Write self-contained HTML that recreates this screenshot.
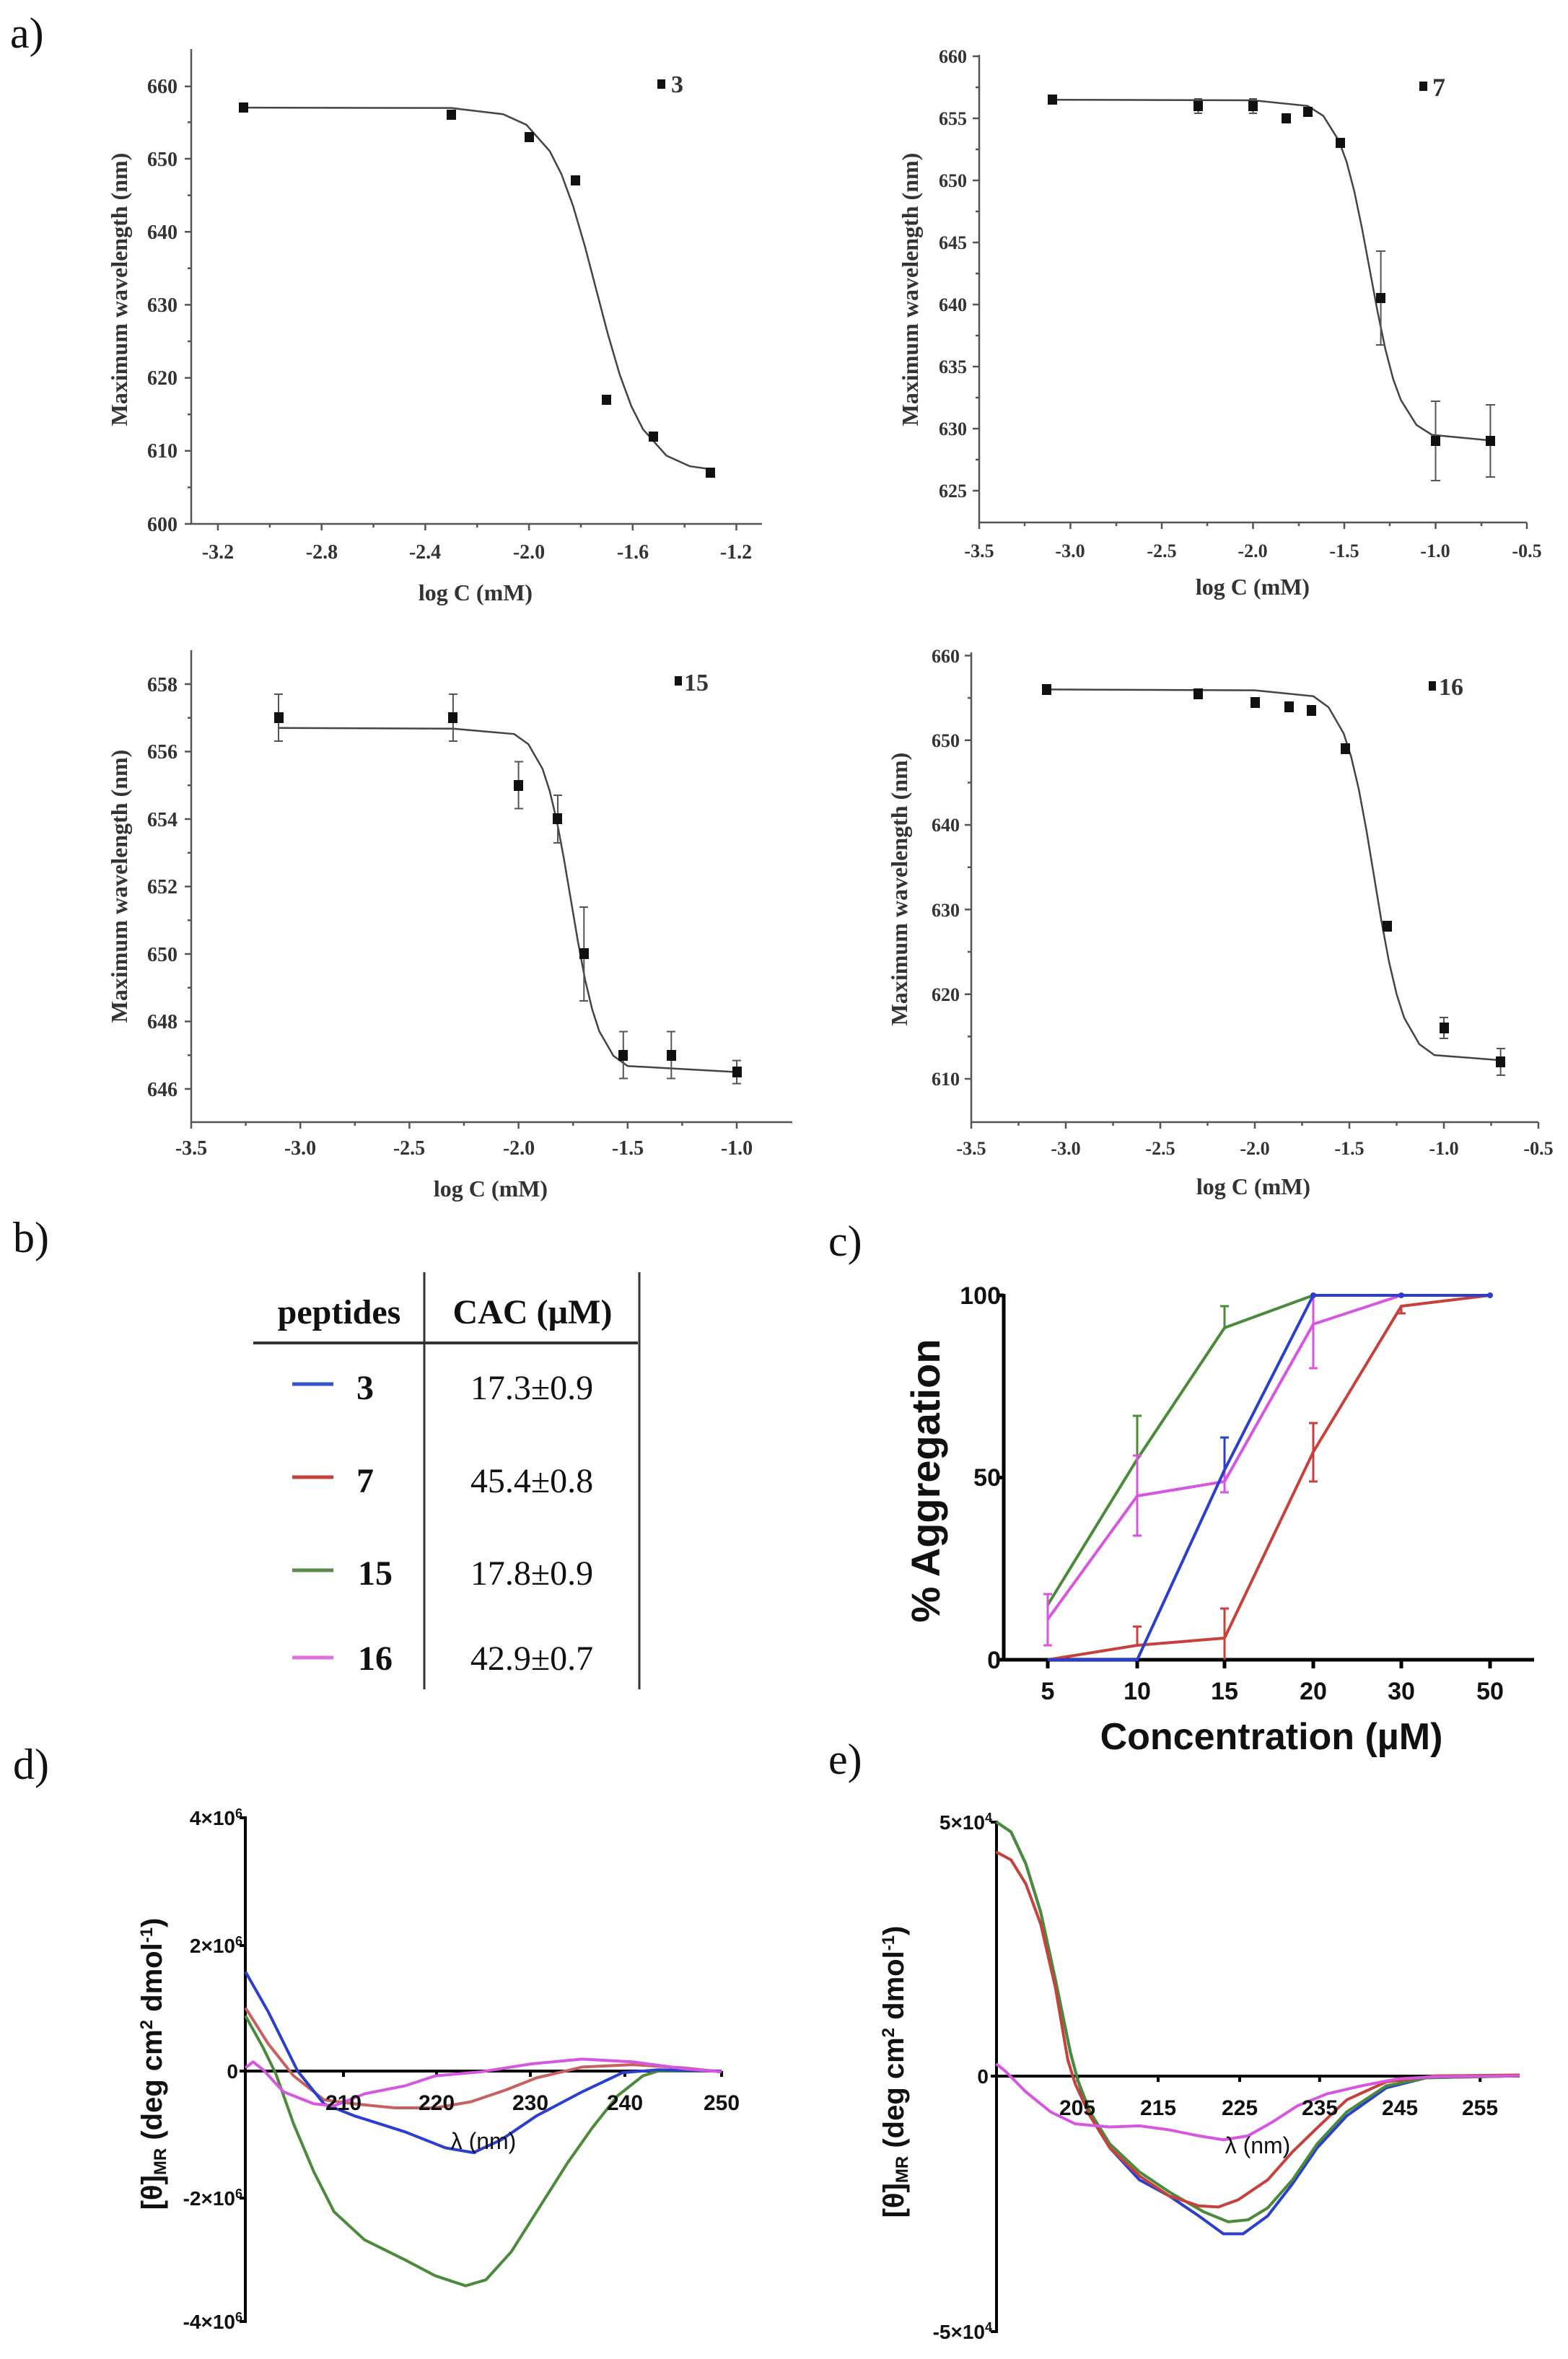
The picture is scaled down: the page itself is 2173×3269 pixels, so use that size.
<!DOCTYPE html>
<html><head><meta charset="utf-8"><style>
html,body{margin:0;padding:0;background:#fff}
svg{display:block}
.ts{font-family:"Liberation Serif",serif;font-weight:bold;fill:#333}
.as{font-family:"Liberation Sans",sans-serif;font-weight:bold;fill:#111}
.lab{font-family:"Liberation Serif",serif;font-size:60px;fill:#111}
</style></head><body>
<svg width="2173" height="3269" viewBox="0 0 2173 3269" xmlns="http://www.w3.org/2000/svg">
<rect width="2173" height="3269" fill="#fff"/>
<!-- panel labels -->
<text class="lab" x="14" y="66">a)</text>
<text class="lab" x="18" y="1735">b)</text>
<text class="lab" x="1148" y="1740">c)</text>
<text class="lab" x="18" y="2465">d)</text>
<text class="lab" x="1148" y="2458">e)</text>

<!-- ===== a1 ===== -->
<g stroke="#555" stroke-width="2.5" fill="none">
<path d="M265 68V726H1056"/>
<path d="M265 119.8h-9M265 220h-9M265 321.2h-9M265 422.4h-9M265 523.6h-9M265 624.8h-9M265 726h-9"/>
<path d="M265 169.4h-5M265 270.6h-5M265 371.8h-5M265 473h-5M265 574.2h-5M265 675.4h-5"/>
<path d="M302 726v9M445.7 726v9M589.4 726v9M733.1 726v9M876.8 726v9M1020.5 726v9"/>
<path d="M373.9 726v5M517.6 726v5M661.3 726v5M805 726v5M948.7 726v5"/>
</g>
<g class="ts" font-size="28" text-anchor="end">
<text x="246" y="129">660</text><text x="246" y="230">650</text><text x="246" y="331">640</text><text x="246" y="432">630</text><text x="246" y="533">620</text><text x="246" y="634">610</text><text x="246" y="736">600</text>
</g>
<g class="ts" font-size="28" text-anchor="middle">
<text x="302" y="774">-3.2</text><text x="446" y="774">-2.8</text><text x="589" y="774">-2.4</text><text x="733" y="774">-2.0</text><text x="877" y="774">-1.6</text><text x="1020" y="774">-1.2</text>
<text x="659" y="832" font-size="32">log C (mM)</text>
<text transform="translate(176,401) rotate(-90)" font-size="32">Maximum wavelength (nm)</text>
</g>
<polyline transform="matrix(359.25 0 0 -10.12 1451.6 6798)" vector-effect="non-scaling-stroke" fill="none" stroke="#444" stroke-width="2.5" points="-3.1,657 -2.3,656.95 -2.10,656.1 -2.01,654.65 -1.92,651.05 -1.875,647.9 -1.83,643.55 -1.785,638.1 -1.74,632 -1.695,625.9 -1.65,620.45 -1.605,616.1 -1.56,612.95 -1.47,609.35 -1.38,607.9 -1.3,607.5"/>
<g fill="#111">
<rect x="331" y="142" width="13" height="14"/><rect x="619" y="152" width="13" height="14"/><rect x="727" y="183" width="13" height="14"/><rect x="791" y="243" width="13" height="14"/><rect x="834" y="547" width="13" height="14"/><rect x="899" y="598" width="13" height="14"/><rect x="978" y="648" width="13" height="14"/>
<rect x="911" y="110" width="11" height="13"/>
</g>
<text class="ts" x="930" y="128" font-size="34" fill="#111">3</text>

<!-- ===== a2 ===== -->
<g stroke="#555" stroke-width="2.5" fill="none">
<path d="M1357 76V724H2116"/>
<path d="M1357 78h-9M1357 164h-9M1357 250h-9M1357 336h-9M1357 422h-9M1357 508h-9M1357 594h-9M1357 680h-9"/>
<path d="M1357 121h-5M1357 207h-5M1357 293h-5M1357 379h-5M1357 465h-5M1357 551h-5M1357 637h-5"/>
<path d="M1357 724v9M1483.5 724v9M1610 724v9M1736.5 724v9M1863 724v9M1989.5 724v9M2116 724v9"/>
<path d="M1420 724v5M1547 724v5M1673 724v5M1800 724v5M1926 724v5M2053 724v5"/>
</g>
<g class="ts" font-size="26" text-anchor="end">
<text x="1340" y="87">660</text><text x="1340" y="173">655</text><text x="1340" y="259">650</text><text x="1340" y="345">645</text><text x="1340" y="431">640</text><text x="1340" y="517">635</text><text x="1340" y="603">630</text><text x="1340" y="689">625</text>
</g>
<g class="ts" font-size="26" text-anchor="middle">
<text x="1357" y="772">-3.5</text><text x="1483" y="772">-3.0</text><text x="1610" y="772">-2.5</text><text x="1736" y="772">-2.0</text><text x="1863" y="772">-1.5</text><text x="1989" y="772">-1.0</text><text x="2116" y="772">-0.5</text>
<text x="1736" y="824" font-size="32">log C (mM)</text>
<text transform="translate(1272,401) rotate(-90)" font-size="32">Maximum wavelength (nm)</text>
</g>
<polyline transform="matrix(253 0 0 -17.2 2242.5 11430)" vector-effect="non-scaling-stroke" fill="none" stroke="#444" stroke-width="2.5" points="-3.1,656.5 -2.0,656.45 -1.70,656.0 -1.615,655.2 -1.53,653.2 -1.4875,651.5 -1.445,649.1 -1.4025,646.1 -1.36,642.75 -1.3175,639.4 -1.275,636.4 -1.2325,634.0 -1.19,632.3 -1.105,630.3 -1.02,629.5 -0.7,629.05"/>
<g stroke="#555" stroke-width="2" fill="none">
<path d="M1660.6 137v20M1655 137h11M1655 157h11M1736.5 137v20M1731 137h11M1731 157h11"/>
<path d="M1913.6 348v130M1907 348h13M1907 478h13"/>
<path d="M1989.5 556v110M1983 556h13M1983 666h13"/>
<path d="M2065.4 561v100M2059 561h13M2059 661h13"/>
</g>
<g fill="#111">
<rect x="1452" y="131" width="13" height="14"/><rect x="1654" y="140" width="13" height="14"/><rect x="1730" y="140" width="13" height="14"/><rect x="1776" y="157" width="13" height="14"/><rect x="1806" y="148" width="13" height="14"/><rect x="1851" y="191" width="13" height="14"/><rect x="1907" y="406" width="13" height="14"/><rect x="1983" y="604" width="13" height="14"/><rect x="2059" y="604" width="13" height="14"/>
<rect x="1967" y="113" width="11" height="13"/>
</g>
<text class="ts" x="1985" y="133" font-size="36" fill="#111">7</text>

<!-- ===== a3 ===== -->
<g stroke="#555" stroke-width="2.5" fill="none">
<path d="M265 901V1555H1098"/>
<path d="M265 948h-9M265 1041.5h-9M265 1135h-9M265 1228.5h-9M265 1322h-9M265 1415.5h-9M265 1509h-9"/>
<path d="M265 994.75h-5M265 1088.25h-5M265 1181.75h-5M265 1275.25h-5M265 1368.75h-5M265 1462.25h-5"/>
<path d="M265 1555v9M416.2 1555v9M567.4 1555v9M718.6 1555v9M869.8 1555v9M1021 1555v9"/>
<path d="M340.6 1555v5M491.8 1555v5M643 1555v5M794.2 1555v5M945.4 1555v5"/>
</g>
<g class="ts" font-size="28" text-anchor="end">
<text x="246" y="958">658</text><text x="246" y="1051">656</text><text x="246" y="1145">654</text><text x="246" y="1238">652</text><text x="246" y="1332">650</text><text x="246" y="1425">648</text><text x="246" y="1519">646</text>
</g>
<g class="ts" font-size="28" text-anchor="middle">
<text x="265" y="1600">-3.5</text><text x="416" y="1600">-3.0</text><text x="567" y="1600">-2.5</text><text x="719" y="1600">-2.0</text><text x="870" y="1600">-1.5</text><text x="1021" y="1600">-1.0</text>
<text x="680" y="1658" font-size="32">log C (mM)</text>
<text transform="translate(176,1228) rotate(-90)" font-size="32">Maximum wavelength (nm)</text>
</g>
<polyline transform="matrix(302.4 0 0 -46.75 1323.4 31709.5)" vector-effect="non-scaling-stroke" fill="none" stroke="#444" stroke-width="2.5" points="-3.1,656.7 -2.3,656.68 -2.02,656.52 -1.955,656.22 -1.89,655.49 -1.8575,654.84 -1.825,653.96 -1.7925,652.84 -1.76,651.6 -1.7275,650.36 -1.695,649.24 -1.6625,648.36 -1.63,647.71 -1.565,646.98 -1.5,646.68 -1.0,646.5"/>
<g stroke="#555" stroke-width="2" fill="none">
<path d="M386 962v65M380 962h12M380 1027h12"/>
<path d="M627.9 962v65M622 962h12M622 1027h12"/>
<path d="M718.6 1055.5v65M713 1055.5h12M713 1120.5h12"/>
<path d="M773 1102v66M767 1102h12M767 1168h12"/>
<path d="M809.3 1257v130M803 1257h12M803 1387h12"/>
<path d="M863.8 1429.5v65M858 1429.5h12M858 1494.5h12"/>
<path d="M930.3 1429.5v65M924 1429.5h12M924 1494.5h12"/>
<path d="M1021 1469.6v32M1015 1469.6h12M1015 1501.6h12"/>
</g>
<g fill="#111">
<rect x="380" y="987" width="13" height="15"/><rect x="621" y="987" width="13" height="15"/><rect x="712" y="1081" width="13" height="15"/><rect x="766" y="1127" width="13" height="15"/><rect x="803" y="1314" width="13" height="15"/><rect x="857" y="1455" width="13" height="15"/><rect x="924" y="1455" width="13" height="15"/><rect x="1015" y="1478" width="13" height="15"/>
<rect x="935" y="937" width="10" height="13"/>
</g>
<text class="ts" x="948" y="957" font-size="34" fill="#111">15</text>

<!-- ===== a4 ===== -->
<g stroke="#555" stroke-width="2.5" fill="none">
<path d="M1346 904V1555H2132"/>
<path d="M1346 908.5h-9M1346 1025.8h-9M1346 1143.1h-9M1346 1260.4h-9M1346 1377.7h-9M1346 1495h-9"/>
<path d="M1346 967.15h-5M1346 1084.45h-5M1346 1201.75h-5M1346 1319.05h-5M1346 1436.35h-5"/>
<path d="M1346 1555v9M1477 1555v9M1608 1555v9M1739 1555v9M1870 1555v9M2001 1555v9M2132 1555v9"/>
<path d="M1411.5 1555v5M1542.5 1555v5M1673.5 1555v5M1804.5 1555v5M1935.5 1555v5M2066.5 1555v5"/>
</g>
<g class="ts" font-size="26" text-anchor="end">
<text x="1330" y="918">660</text><text x="1330" y="1035">650</text><text x="1330" y="1152">640</text><text x="1330" y="1270">630</text><text x="1330" y="1387">620</text><text x="1330" y="1504">610</text>
</g>
<g class="ts" font-size="26" text-anchor="middle">
<text x="1346" y="1600">-3.5</text><text x="1477" y="1600">-3.0</text><text x="1608" y="1600">-2.5</text><text x="1739" y="1600">-2.0</text><text x="1870" y="1600">-1.5</text><text x="2001" y="1600">-1.0</text><text x="2132" y="1600">-0.5</text>
<text x="1737" y="1655" font-size="32">log C (mM)</text>
<text transform="translate(1257,1232) rotate(-90)" font-size="32">Maximum wavelength (nm)</text>
</g>
<polyline transform="matrix(262 0 0 -11.73 2263 8650.3)" vector-effect="non-scaling-stroke" fill="none" stroke="#444" stroke-width="2.5" points="-3.1,656 -2.0,655.9 -1.69,655.2 -1.61,653.9 -1.53,650.8 -1.49,648.0 -1.45,644.2 -1.41,639.4 -1.37,634 -1.33,628.6 -1.29,623.8 -1.25,620.0 -1.21,617.2 -1.13,614.1 -1.05,612.8 -0.7,612.2"/>
<g stroke="#555" stroke-width="2" fill="none">
<path d="M2001 1410v29M1995 1410h12M1995 1439h12"/>
<path d="M2079.6 1453v37M2074 1453h12M2074 1490h12"/>
</g>
<g fill="#111">
<rect x="1444" y="948" width="13" height="15"/><rect x="1654" y="954" width="13" height="15"/><rect x="1733" y="966" width="13" height="15"/><rect x="1780" y="972" width="13" height="15"/><rect x="1811" y="977" width="13" height="15"/><rect x="1858" y="1030" width="13" height="15"/><rect x="1916" y="1276" width="13" height="15"/><rect x="1995" y="1417" width="13" height="15"/><rect x="2073" y="1464" width="13" height="15"/>
<rect x="1980" y="944" width="10" height="13"/>
</g>
<text class="ts" x="1994" y="963" font-size="34" fill="#111">16</text>

<!-- ===== b table ===== -->
<g stroke="#333" fill="none">
<path d="M351 1861H884" stroke-width="4"/>
<path d="M588 1763V2341M886 1763V2341" stroke-width="3"/>
</g>
<g font-family="Liberation Serif,serif" fill="#111" font-size="48">
<text x="470" y="1834" font-weight="bold" text-anchor="middle">peptides</text>
<text x="738" y="1834" font-weight="bold" text-anchor="middle">CAC (µM)</text>
<text x="506" y="1939" font-weight="bold" text-anchor="middle">3</text>
<text x="506" y="2068" font-weight="bold" text-anchor="middle">7</text>
<text x="520" y="2196" font-weight="bold" text-anchor="middle">15</text>
<text x="520" y="2314" font-weight="bold" text-anchor="middle">16</text>
<text x="737" y="1939" text-anchor="middle">17.3±0.9</text>
<text x="737" y="2068" text-anchor="middle">45.4±0.8</text>
<text x="737" y="2196" text-anchor="middle">17.8±0.9</text>
<text x="737" y="2314" text-anchor="middle">42.9±0.7</text>
</g>
<g stroke-width="5">
<path d="M405 1918H462" stroke="#3553cc"/>
<path d="M405 2047H462" stroke="#c8403c"/>
<path d="M405 2176H462" stroke="#5a8a4a"/>
<path d="M405 2297H462" stroke="#e070e0"/>
</g>

<!-- ===== c ===== -->
<g stroke="#000" stroke-width="5" fill="none">
<path d="M1391 1793V2300H2126"/>
<path d="M1391 1795h-10M1391 2047.5h-10M1391 2300h-10"/>
<path d="M1452 2300v12M1576 2300v12M1697 2300v12M1820 2300v12M1942 2300v12M2065 2300v12"/>
</g>
<g class="as" font-size="34">
<text x="1387" y="1807" text-anchor="end">100</text>
<text x="1387" y="2059" text-anchor="end">50</text>
<text x="1387" y="2312" text-anchor="end">0</text>
<g text-anchor="middle"><text x="1452" y="2355">5</text><text x="1576" y="2355">10</text><text x="1697" y="2355">15</text><text x="1820" y="2355">20</text><text x="1942" y="2355">30</text><text x="2065" y="2355">50</text></g>
<text transform="translate(1302,2052) rotate(-90)" font-size="56" text-anchor="middle">% Aggregation</text>
<text x="1762" y="2424" font-size="52" text-anchor="middle">Concentration (µM)</text>
</g>
<g fill="none" stroke-width="4" stroke-linejoin="round">
<polyline stroke="#4a8a3a" points="1452,2224 1576,2022 1697,1840 1820,1795"/>
<path stroke="#4a8a3a" stroke-width="3" d="M1452 2209v30M1446 2209h12M1576 2022v-60M1570 1962h12M1697 1840v-30M1691 1810h12"/>
<polyline stroke="#d755e0" points="1452,2244 1576,2073 1697,2053 1820,1835 1942,1795 2065,1795"/>
<path stroke="#d755e0" stroke-width="3" d="M1452 2209v71M1446 2209h12M1446 2280h12M1576 2017v111M1570 2017h12M1570 2128h12M1697 2037v31M1691 2068h12M1820 1795v101M1814 1896h12"/>
<polyline stroke="#c8403c" points="1452,2300 1576,2280 1697,2270 1820,2012 1942,1810 2065,1795"/>
<path stroke="#c8403c" stroke-width="3" d="M1576 2280v-26M1570 2254h12M1697 2300v-71M1691 2229h12M1820 1972v81M1814 1972h12M1814 2053h12M1942 1810v10M1936 1820h12"/>
<polyline stroke="#2a3fd0" points="1452,2300 1576,2300 1697,2037 1820,1795 1942,1795 2065,1795"/>
<path stroke="#2a3fd0" stroke-width="3" d="M1697 2037v-45M1691 1992h12"/>
</g>
<g fill="#2a3fd0"><circle cx="1820" cy="1795" r="4"/><circle cx="1942" cy="1795" r="4"/><circle cx="2065" cy="1795" r="4"/></g>

<!-- ===== d ===== -->
<g stroke="#000" stroke-width="4" fill="none">
<path d="M340 2517V3219"/>
<path d="M340 2870H1000"/>
<path d="M340 2519h-8M340 2696h-8M340 2870h-8M340 3046h-8M340 3217h-8"/>
<path d="M476 2870v8M605 2870v8M735 2870v8M866 2870v8M1000 2870v8"/>
</g>
<g transform="translate(0,2400) scale(0.70151,0.55420)" fill="none" stroke-width="4" stroke-linejoin="round">
<polyline vector-effect="non-scaling-stroke" stroke="#4a8a3a" points="485,710 520,790 545,855 580,980 620,1100 660,1200 720,1270 800,1320 860,1360 920,1385 960,1370 1010,1300 1060,1200 1120,1080 1170,990 1220,910 1270,860 1300,848 1425,848"/>
<polyline vector-effect="non-scaling-stroke" stroke="#c86060" points="485,690 530,780 580,860 640,920 700,930 780,940 860,940 930,925 1000,895 1060,865 1150,838 1250,832 1350,840 1425,850"/>
<polyline vector-effect="non-scaling-stroke" stroke="#2a3fd0" points="485,600 530,700 588,848 640,930 700,960 800,1000 880,1040 935,1052 990,1020 1060,960 1150,900 1230,852 1300,845 1425,848"/>
<polyline vector-effect="non-scaling-stroke" stroke="#d755e0" points="485,840 500,825 520,845 560,900 620,930 660,935 720,905 800,885 860,860 950,850 1050,830 1150,818 1250,825 1350,842 1425,850"/>
</g>
<g class="as" font-size="28" fill="#111">
<g text-anchor="end">
<text x="336" y="2529">4×10<tspan font-size="18" dy="-10">6</tspan></text>
<text x="336" y="2706">2×10<tspan font-size="18" dy="-10">6</tspan></text>
<text x="330" y="2880">0</text>
<text x="336" y="3056">-2×10<tspan font-size="18" dy="-10">6</tspan></text>
<text x="336" y="3227">-4×10<tspan font-size="18" dy="-10">6</tspan></text>
</g>
<g text-anchor="middle" font-size="30"><text x="476" y="2924">210</text><text x="605" y="2924">220</text><text x="735" y="2924">230</text><text x="866" y="2924">240</text><text x="1000" y="2924">250</text></g>
<text x="670" y="2978" font-size="32" font-weight="normal" text-anchor="middle">λ (nm)</text>
<text transform="translate(224,2860) rotate(-90)" font-size="40" text-anchor="middle">[θ]<tspan font-size="24" dy="6">MR</tspan><tspan dy="-6"> (deg cm</tspan><tspan font-size="24" dy="-13">2</tspan><tspan dy="13"> dmol</tspan><tspan font-size="24" dy="-13">-1</tspan><tspan dy="13">)</tspan></text>
</g>

<!-- ===== e ===== -->
<g stroke="#000" stroke-width="4" fill="none">
<path d="M1381 2523V3233"/>
<path d="M1381 2877H2106"/>
<path d="M1381 2525h-8M1381 2877h-8M1381 3231h-8"/>
<path d="M1493.5 2877v8M1605 2877v8M1718 2877v8M1828.8 2877v8M1940.3 2877v8M2051.2 2877v8"/>
</g>
<g transform="translate(1100,2400) scale(0.68433,0.55420)" fill="none" stroke-width="4" stroke-linejoin="round">
<polyline vector-effect="non-scaling-stroke" stroke="#2a3fd0" points="410,225 440,250 470,330 500,450 530,620 560,800 575,870 600,960 640,1040 700,1120 760,1160 820,1210 870,1255 910,1255 960,1210 1010,1130 1060,1040 1120,960 1200,890 1280,865 1470,860"/>
<polyline vector-effect="non-scaling-stroke" stroke="#4a8a3a" points="410,225 440,250 470,330 500,450 530,620 560,800 575,870 600,950 640,1030 700,1100 760,1150 830,1200 880,1225 920,1220 960,1190 1010,1120 1060,1030 1120,950 1200,885 1280,865 1470,860"/>
<polyline vector-effect="non-scaling-stroke" stroke="#c8403c" points="410,300 440,320 470,380 500,480 530,640 555,820 570,880 600,960 640,1040 700,1110 760,1160 820,1185 860,1188 900,1170 960,1120 1010,1050 1060,990 1120,920 1200,875 1300,860 1470,858"/>
<polyline vector-effect="non-scaling-stroke" stroke="#d755e0" points="410,830 430,850 470,900 520,950 570,980 640,988 700,985 760,995 820,1010 870,1020 920,1010 970,975 1020,935 1080,905 1150,885 1220,868 1300,862 1470,860"/>
</g>
<g class="as" font-size="28" fill="#111">
<g text-anchor="end">
<text x="1375" y="2535">5×10<tspan font-size="18" dy="-10">4</tspan></text>
<text x="1370" y="2887">0</text>
<text x="1375" y="3241">-5×10<tspan font-size="18" dy="-10">4</tspan></text>
</g>
<g text-anchor="middle" font-size="30"><text x="1493" y="2931">205</text><text x="1605" y="2931">215</text><text x="1718" y="2931">225</text><text x="1829" y="2931">235</text><text x="1940" y="2931">245</text><text x="2051" y="2931">255</text></g>
<text x="1743" y="2984" font-size="32" font-weight="normal" text-anchor="middle">λ (nm)</text>
<text transform="translate(1252,2871) rotate(-90)" font-size="40" text-anchor="middle">[θ]<tspan font-size="24" dy="6">MR</tspan><tspan dy="-6"> (deg cm</tspan><tspan font-size="24" dy="-13">2</tspan><tspan dy="13"> dmol</tspan><tspan font-size="24" dy="-13">-1</tspan><tspan dy="13">)</tspan></text>
</g>
</svg>
</body></html>
